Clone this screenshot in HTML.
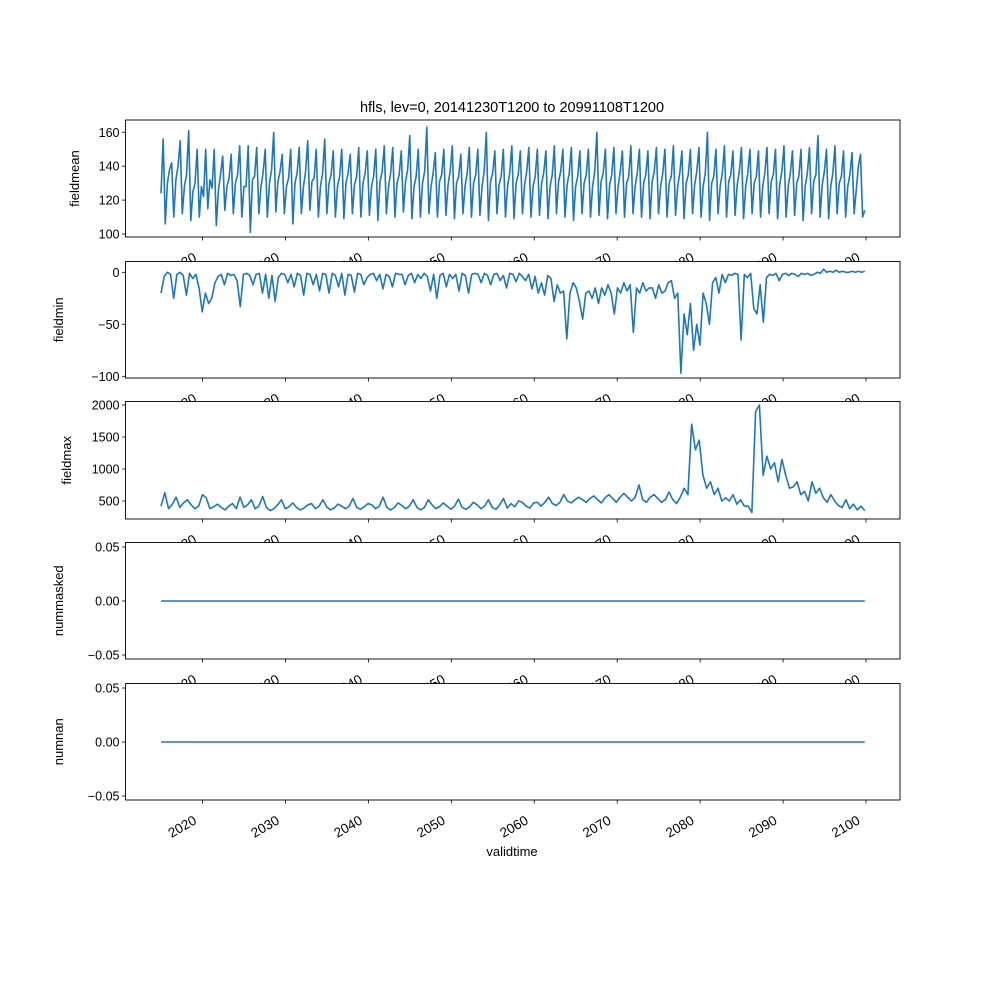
<!DOCTYPE html>
<html><head><meta charset="utf-8"><style>
html,body{margin:0;padding:0;background:#fff;}
svg{display:block;font-family:"Liberation Sans","DejaVu Sans",sans-serif;}
</style></head><body>
<svg id="chart" width="1000" height="1000" viewBox="0 0 1000 1000" xmlns="http://www.w3.org/2000/svg">
<rect width="1000" height="1000" fill="#fff"/>
<text x="512" y="112" font-size="14.5" text-anchor="middle">hfls, lev=0, 20141230T1200 to 20991108T1200</text>
<text x="512" y="856" font-size="13" text-anchor="middle">validtime</text>
</svg>
<script>
const startYear = 2015.0;
const endYear = 2099.85;
const xTicks = [2020,2030,2040,2050,2060,2070,2080,2090,2100];
const meanVals = [
124,156,106,130, 138,142,110,132, 140,155,112,128, 135,161,108,125, 130,150,110,128,
122,150,115,132, 127,150,105,126, 135,146,114,128, 133,147,112,130, 135,152,110,128,
128,152,101,132, 134,151,112,128, 136,150,110,130, 138,160,113,131, 137,147,112,128,
133,150,106,130, 136,151,112,128, 137,155,114,131, 133,150,110,128, 136,156,112,130,
135,149,110,128, 134,150,109,130, 136,147,112,129, 134,151,110,130, 136,149,111,128,
134,150,108,131, 137,152,112,128, 136,151,110,130, 135,149,113,131, 138,158,109,128,
134,150,110,130, 137,163,112,128, 136,148,110,131, 135,150,111,129, 137,152,109,130,
134,147,112,128, 136,151,110,130, 135,150,111,128, 137,160,108,131, 136,149,112,129,
134,150,110,128, 136,152,109,130, 135,149,112,129, 137,151,110,128, 134,150,111,130,
136,149,109,128, 135,152,112,131, 137,150,110,129, 136,151,108,128, 134,149,112,130,
135,150,110,128, 137,160,111,131, 136,150,109,129, 135,151,112,128, 137,149,110,130,
134,152,112,128, 136,150,110,130, 135,149,109,131, 137,151,112,128, 136,150,110,130,
134,152,111,128, 136,149,109,130, 135,150,112,129, 137,151,110,128, 136,160,108,130,
134,150,112,128, 136,152,110,131, 135,149,111,129, 137,151,109,128, 136,150,112,130,
134,149,110,128, 136,151,112,131, 135,150,109,129, 137,152,110,128, 136,149,111,130,
134,150,108,128, 136,151,112,131, 135,158,110,129, 137,150,109,128, 136,152,112,130,
134,149,110,128, 135,148,112,126, 140,147,110,114
];
const minVals = [
-20,-4,0,-2, -25,-2,0,-3, -22,-1,-6,-2, -15,-38,-20,-30, -25,-10,-4,-2,
-12,-1,-3,-2, -8,-33,-2,-1, -3,-12,-2,-1, -20,-2,-25,-3, -28,-5,-1,-2,
-10,-2,-14,-1, -3,-22,-1,-2, -12,-2,-18,-1, -2,-20,-1,-3, -14,-1,-22,-2,
-3,-19,-1,-2, -12,-5,-2,-1, -8,-2,-16,-2, -4,-14,-1,-2, -2,-12,-3,-1,
-10,-2,-6,-1, -4,-18,-2,-25, -3,-1,-14,-2, -6,-2,-18,-1, -3,-20,-2,-1,
-2,-10,-1,-3, -12,-2,-1,-8, -3,-15,-1,-2,-9,-1,-4,
-8,-2,-16,-4, -20,-10,-22,-3, -6,-28,-12,-20, -18,-64,-20,-10, -15,-28,-45,-20,
-18,-25,-15,-30, -15,-22,-12,-20, -40,-15,-20,-10, -18,-12,-58,-15, -20,-10,-18,-15,
-15,-25,-12,-20, -18,-10,-8,-25, -20,-97,-40,-60, -30,-75,-50,-70, -20,-30,-50,-10,
-5,-20,-2,-10, -2,-3,-1,-2, -65,-2,-5,-1, -35,-40,-12,-48, -5,-2,-3,-1, -8,-2,-1,-3,
-1,-2,-4,-1, -2,-1,-3,-2, 0,-1,3,0, 1,0,2,0, 1,0,0,1,
0,1,0,1
];
const maxVals = [
420,630,380,450, 560,400,470,520, 440,380,420,600, 550,380,410,450, 400,360,420,460,
380,560,400,440, 520,380,420,570, 400,350,380,440, 520,380,410,470, 400,360,390,440,
460,380,420,520, 410,360,390,450, 420,380,420,540, 400,370,410,460, 440,380,420,560,
400,360,400,470, 430,380,420,520, 400,360,400,520, 440,380,410,470, 420,370,420,530,
400,370,410,480, 440,380,420,520, 400,370,440,540, 390,460,410,500,480, 420,390,470,
480,420,480,560, 460,430,480,600,
500,470,520,560, 520,480,540,580, 520,470,550,600, 540,480,560,620, 560,500,560,750,
520,480,560,600, 540,480,520,640, 520,460,560,700, 600,1700,1300,1450, 900,700,800,600,
700,500,550,500, 600,450,520,420, 420,320,1900,2000, 900,1200,1000,1100, 800,1150,900,700,
720,800,600,650, 500,800,620,700, 550,480,600,500, 430,400,520,380, 450,360,420,350
];
const zeroVals = [0,0];
</script>
<script>
const svg = document.getElementById('chart');
const NS = 'http://www.w3.org/2000/svg';
const AX_L = 125.5, AX_R = 900;
const X0 = 2020, X0px = 202.5, pxPerYear = (866 - 202.5) / 80;
function xScale(t){ return X0px + (t - X0) * pxPerYear; }
function tAt(i, n){ return startYear + i * (endYear - startYear) / (n - 1); }
function mk(tag, attrs){ const e = document.createElementNS(NS, tag); for (const k in attrs) e.setAttribute(k, attrs[k]); svg.appendChild(e); return e; }

const panels = [
  {name:'fieldmean', top:120, bottom:237, v0:100, p0:234, v1:160, p1:132.3, ticks:[100,120,140,160], labels:['100','120','140','160'], vals:meanVals},
  {name:'fieldmin', top:261.5, bottom:378, v0:-100, p0:376.3, v1:0, p1:272.3, ticks:[-100,-50,0], labels:['\u2212100','\u221250','0'], vals:minVals},
  {name:'fieldmax', top:401.5, bottom:519, v0:500, p0:501, v1:2000, p1:405, ticks:[500,1000,1500,2000], labels:['500','1000','1500','2000'], vals:maxVals},
  {name:'nummasked', top:542.5, bottom:659, v0:-0.05, p0:655, v1:0.05, p1:547, ticks:[-0.05,0,0.05], labels:['\u22120.05','0.00','0.05'], vals:zeroVals},
  {name:'numnan', top:683.5, bottom:800, v0:-0.05, p0:796, v1:0.05, p1:688, ticks:[-0.05,0,0.05], labels:['\u22120.05','0.00','0.05'], vals:zeroVals}
];

panels.forEach(function(p, idx){
  const yScale = function(v){ return p.p0 + (v - p.v0) * (p.p1 - p.p0) / (p.v1 - p.v0); };
  const bg = mk('rect', {x:AX_L, y:p.top, width:AX_R-AX_L, height:p.bottom-p.top, fill:'#fff'});
  
  
  const n = p.vals.length;
  const pts = p.vals.map(function(v, i){ return xScale(tAt(i, n)).toFixed(2) + ',' + yScale(v).toFixed(2); });
  const line = mk('polyline', {points:pts.join(' '), fill:'none', stroke:'#1f77b4', 'stroke-width':1.6, 'stroke-linejoin':'round'});
  
  
  p.ticks.forEach(function(t, i){
    const y = yScale(t);
    const tk = mk('line', {x1:AX_L-3.5, x2:AX_L, y1:y, y2:y, stroke:'#000', 'stroke-width':0.8});
    
    
    const lb = mk('text', {x:AX_L-6, y:y+4.5, 'font-size':12.5, 'text-anchor':'end'});
    lb.textContent = p.labels[i];
    
    
  });
  const cy = (p.top + p.bottom) / 2;
  const labX = (idx === 0) ? 79 : (idx === 2 ? 71 : 63);
  const yt = mk('text', {x:labX, y:cy, 'font-size':13, 'text-anchor':'middle', transform:'rotate(-90 ' + labX + ' ' + cy + ')'});
  yt.textContent = p.name;
  
  
  const fr = mk('rect', {x:AX_L, y:p.top, width:AX_R-AX_L, height:p.bottom-p.top, fill:'none', stroke:'#000', 'stroke-width':0.9});
  
  
  xTicks.forEach(function(t){
    const x = xScale(t);
    const tk = mk('line', {x1:x, x2:x, y1:p.bottom, y2:p.bottom+3.5, stroke:'#000', 'stroke-width':0.8});
    
    
    const ax = x - 5, ay = p.bottom + 23;
    const lb = mk('text', {x:ax, y:ay, 'font-size':13.5, 'text-anchor':'end', transform:'rotate(-30 ' + ax + ' ' + ay + ')'});
    lb.textContent = String(t);
    
    
  });
});
</script>
</body></html>
